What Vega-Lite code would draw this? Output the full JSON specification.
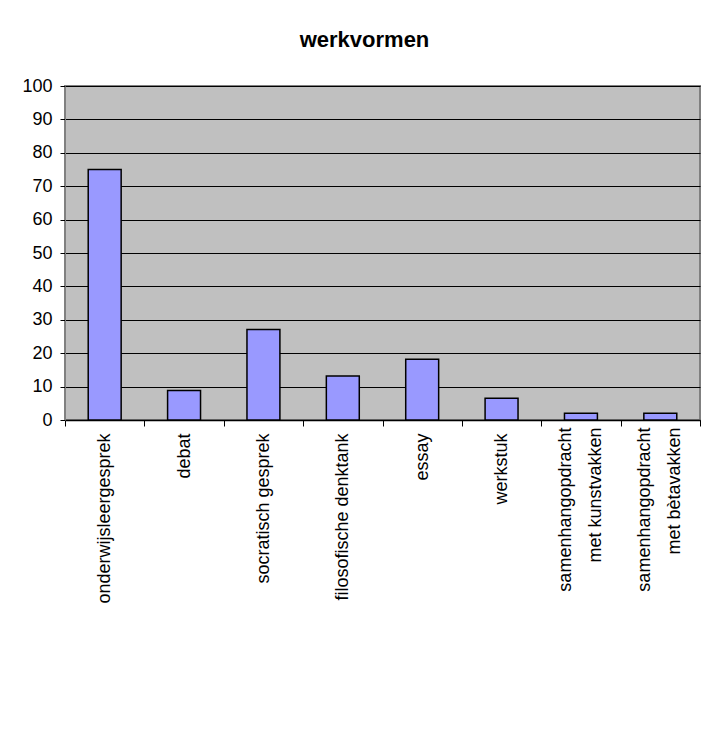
{
  "$schema": "https://vega.github.io/schema/vega-lite/v6.json",
  "autosize": "none",
  "width": 635,
  "height": 334,
  "padding": {"left": 65, "top": 86, "right": 7, "bottom": 311},
  "background": "white",
  "title": {
    "text": "werkvormen",
    "font": "Liberation Sans",
    "fontSize": 22,
    "fontWeight": "bold",
    "color": "black",
    "anchor": "middle",
    "frame": "group",
    "baseline": "alphabetic",
    "offset": 8,
    "dx": -18
  },
  "config": {
    "view": {"fill": "#C0C0C0", "stroke": "#808080", "strokeWidth": 2},
    "axis": {
      "labelFont": "Liberation Sans",
      "labelFontSize": 18,
      "labelColor": "black",
      "domainColor": "black",
      "tickColor": "black",
      "gridColor": "black",
      "gridOpacity": 1,
      "gridWidth": 1
    }
  },
  "data": {
    "values": [
      {"werkvorm": "onderwijsleergesprek", "waarde": 75},
      {"werkvorm": "debat", "waarde": 8.8},
      {"werkvorm": "socratisch gesprek", "waarde": 27.1},
      {"werkvorm": "filosofische denktank", "waarde": 13.2},
      {"werkvorm": "essay", "waarde": 18.2},
      {"werkvorm": "werkstuk", "waarde": 6.5},
      {"werkvorm": "samenhangopdracht|met kunstvakken\u00a0\u00a0", "waarde": 2},
      {"werkvorm": "samenhangopdracht|met bètavakken\u00a0\u00a0", "waarde": 2}
    ]
  },
  "layer": [
    {
      "mark": {"type": "bar", "color": "#9999FF", "stroke": "black", "strokeWidth": 1.5, "width": {"band": 0.415}},
      "encoding": {
        "x": {
          "field": "werkvorm",
          "type": "nominal",
          "sort": null,
          "scale": {"paddingInner": 0, "paddingOuter": 0},
          "axis": {
            "title": null,
            "orient": "bottom",
            "labelAngle": -90,
            "labelAlign": "right",
            "labelBaseline": "middle",
            "labelPadding": 7,
            "labelExpr": "indexof(datum.label, '|') >= 0 ? '' : datum.label",
            "tickBand": "extent",
            "tickSize": 6,
            "grid": false,
            "domainWidth": 1.5
          }
        },
        "y": {
          "field": "waarde",
          "type": "quantitative",
          "scale": {"domain": [0, 100], "nice": false},
          "axis": {
            "title": null,
            "values": [0, 10, 20, 30, 40, 50, 60, 70, 80, 90, 100],
            "labelOverlap": false,
            "tickSize": 5,
            "labelPadding": 8,
            "domainColor": "#808080",
            "grid": true
          }
        }
      }
    },
    {
      "mark": {"type": "bar", "opacity": 0, "width": {"band": 0.415}},
      "encoding": {
        "x": {
          "field": "werkvorm",
          "type": "nominal",
          "sort": null,
          "scale": {"paddingInner": 0, "paddingOuter": 0},
          "axis": {
            "title": null,
            "orient": "bottom",
            "labelAngle": -90,
            "labelAlign": "right",
            "labelBaseline": "middle",
            "labelPadding": 7,
            "labelLineHeight": 30,
            "labelOffset": -15,
            "labelExpr": "indexof(datum.label, '|') >= 0 ? split(datum.label, '|') : ''",
            "ticks": false,
            "domain": false,
            "grid": false
          }
        },
        "y": {
          "field": "waarde",
          "type": "quantitative",
          "scale": {"domain": [0, 100], "nice": false},
          "axis": {
            "title": null,
            "values": [0, 10, 20, 30, 40, 50, 60, 70, 80, 90, 100],
            "labelOverlap": false,
            "tickSize": 5,
            "labelPadding": 8,
            "domainColor": "#808080",
            "grid": true
          }
        }
      }
    }
  ],
  "resolve": {"scale": {"x": "independent"}, "axis": {"x": "independent"}}
}
